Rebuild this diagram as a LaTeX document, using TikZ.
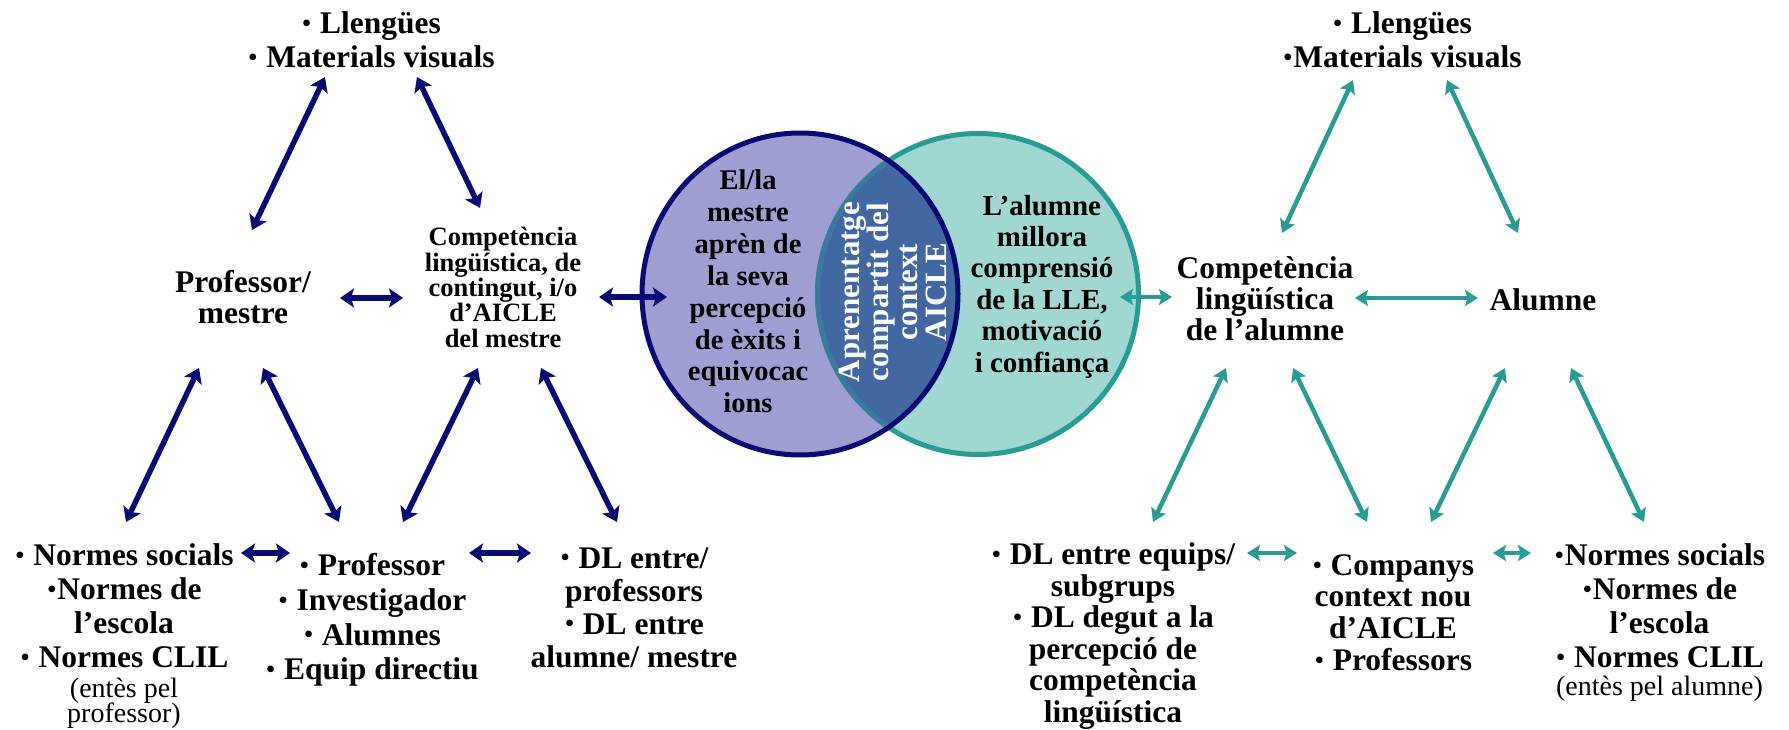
\documentclass[tikz,border=0pt]{standalone}
\usepackage{fontspec}
\setmainfont{Liberation Serif}
\usetikzlibrary{arrows.meta}
\definecolor{navyc}{RGB}{10,10,115}
\definecolor{tealc}{RGB}{40,155,148}
\definecolor{purplefill}{RGB}{158,158,208}
\definecolor{tealfill}{RGB}{160,215,210}
\definecolor{interfill}{RGB}{66,104,162}
\newcommand\parenfont{\mdseries\fontsize{28}{26}\selectfont}
\newcommand\bul{\makebox[0.35em]{\raisebox{0.07em}{\scalebox{0.78}{•}}}}
\tikzset{
  lbl/.style={align=center, inner sep=0pt, text=black},
  bigtxt/.style={font=\bfseries\fontsize{31.5}{#1}\selectfont},
  navyarr/.style={draw=navyc, line width=5.5pt,
    {Stealth[length=14pt,width=19pt,inset=3pt]}-{Stealth[length=14pt,width=19pt,inset=3pt]}},
  tealarr/.style={draw=tealc, line width=4.5pt,
    {Stealth[length=13pt,width=16pt,inset=2.5pt]}-{Stealth[length=13pt,width=16pt,inset=2.5pt]}},
}
\begin{document}
\begin{tikzpicture}[x=1pt,y=-1pt]
\useasboundingbox (0,0) rectangle (1789,730);

% ---------- Venn circles ----------
\coordinate (Lc) at (800,294);
\coordinate (Rc) at (978,294);
\fill[tealfill] (Rc) circle[radius=160.5pt];
\fill[purplefill] (Lc) ellipse[x radius=158pt, y radius=161pt];
\begin{scope}
  \clip (Lc) ellipse[x radius=158pt, y radius=161pt];
  \fill[interfill] (Rc) circle[radius=160.5pt];
\end{scope}
\draw[tealc, line width=5pt] (Rc) circle[radius=160.5pt];
\begin{scope}
  \clip (Lc) ellipse[x radius=158pt, y radius=161pt];
  \draw[tealc!35!interfill, line width=5pt] (Rc) circle[radius=160.5pt];
\end{scope}
\draw[navyc, line width=5pt] (Lc) ellipse[x radius=158pt, y radius=161pt];

\node[lbl, font=\bfseries\fontsize{28.5}{31.9}\selectfont] (lt) at (748,291.5)
  {El/la\\mestre\\aprèn de\\la seva\\percepció\\de èxits i\\equivocac\\ions};
\node[lbl, font=\bfseries\fontsize{29}{31.4}\selectfont] (rt) at (1042,286.5)
  {L’alumne\\millora\\comprensió\\de la LLE,\\motivació\\i confiança};
\node[lbl, text=white, rotate=90, font=\bfseries\fontsize{31}{29}\selectfont] (mid) at (893,292)
  {Aprenentatge\\compartit del\\context\\AICLE};

% ---------- Left (teacher) side ----------
\node[lbl, bigtxt=34] (tl) at (371,40) {\bul\ Llengües\\\bul\ Materials visuals};
\node[lbl, bigtxt=31] (prof) at (243,297.5) {Professor/\\mestre};
\node[lbl, font=\bfseries\fontsize{26.5}{25.3}\selectfont] (comp) at (503,287.5)
  {Competència\\lingüística, de\\contingut, i/o\\d’AICLE\\del mestre};
\node[lbl, bigtxt=34] (n1) at (124,636)
  {\bul\ Normes socials\\\bul Normes de\\l’escola\\\bul\ Normes CLIL\\[-4pt]\parenfont (entès pel\\[-9pt]\parenfont professor)};
\node[lbl, bigtxt=34.7] (n2) at (372,620)
  {\bul\ Professor\\\bul\ Investigador\\\bul\ Alumnes\\\bul\ Equip directiu};
\node[lbl, bigtxt=33] (n3) at (634,607.5)
  {\bul\ DL entre/\\professors\\\bul\ DL entre\\alumne/ mestre};

% ---------- Right (pupil) side ----------
\node[lbl, bigtxt=34] (tr) at (1402,40) {\bul\ Llengües\\\bul Materials visuals};
\node[lbl, bigtxt=31] (compa) at (1265,299) {Competència\\lingüística\\de l’alumne};
\node[lbl, bigtxt=31] (alum) at (1543,300) {Alumne};
\node[lbl, bigtxt=31.6] (r1) at (1113,636)
  {\bul\ DL entre equips/\\subgrups\\\bul\ DL degut a la\\percepció de\\competència\\lingüística};
\node[lbl, bigtxt=31.7] (r2) at (1393,612.5)
  {\bul\ Companys\\context nou\\d’AICLE\\\bul\ Professors};
\node[lbl, bigtxt=34] (r3) at (1659.5,623)
  {\bul Normes socials\\\bul Normes de\\l’escola\\\bul\ Normes CLIL\\[-6pt]\parenfont (entès pel alumne)};

% ---------- arrow end points ----------
\coordinate (ltA) at (252,230);  \coordinate (ltB) at (325,77);
\coordinate (lrA) at (417,77);   \coordinate (lrB) at (480,208);
\coordinate (lhA) at (340,298);  \coordinate (lhB) at (403,298);
\coordinate (lcA) at (599,297);  \coordinate (lcB) at (667,297);
\coordinate (a1A) at (199,368);  \coordinate (a1B) at (126,522);
\coordinate (a2A) at (263,368);  \coordinate (a2B) at (339,522);
\coordinate (a3A) at (478,368);  \coordinate (a3B) at (403,522);
\coordinate (a4A) at (541,368);  \coordinate (a4B) at (617,522);
\coordinate (h1A) at (241,553);  \coordinate (h1B) at (290,553);
\coordinate (h2A) at (469,553);  \coordinate (h2B) at (531,553);

\coordinate (rtA) at (1282,233); \coordinate (rtB) at (1353,80);
\coordinate (rrA) at (1447,80);  \coordinate (rrB) at (1518,233);
\coordinate (rhA) at (1355,298); \coordinate (rhB) at (1478,298);
\coordinate (rcA) at (1120,297); \coordinate (rcB) at (1172,297);
\coordinate (b1A) at (1226,368); \coordinate (b1B) at (1153,522);
\coordinate (b2A) at (1293,368); \coordinate (b2B) at (1367,522);
\coordinate (b3A) at (1505,368); \coordinate (b3B) at (1431,522);
\coordinate (b4A) at (1571,368); \coordinate (b4B) at (1644,522);
\coordinate (g1A) at (1247,553); \coordinate (g1B) at (1297,553);
\coordinate (g2A) at (1493,553); \coordinate (g2B) at (1531,553);

% ---------- arrows ----------
\foreach \p in {lt,lr,lh,lc,a1,a2,a3,a4,h1,h2}
  \draw[navyarr] (\p A) -- (\p B);
\foreach \p in {rt,rr,rh,rc,b1,b2,b3,b4,g1,g2}
  \draw[tealarr] (\p A) -- (\p B);
\end{tikzpicture}
\end{document}
